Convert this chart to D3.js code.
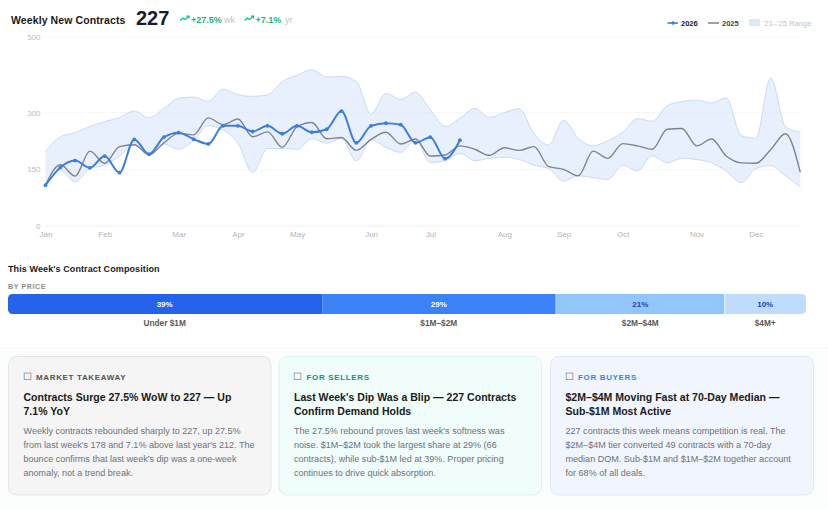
<!DOCTYPE html>
<html><head><meta charset="utf-8">
<script src="https://cdnjs.cloudflare.com/ajax/libs/d3/7.8.5/d3.min.js"></script>
<style>
html,body{margin:0;padding:0;background:#fff;overflow:hidden}
svg{display:block}
text{font-family:"Liberation Sans",Arial,sans-serif}
</style></head><body><div id="c"></div>
<script>
const monthLabels=["Jan","Feb","Mar","Apr","May","Jun","Jul","Aug","Sep","Oct","Nov","Dec"];
const monthWeeks=[0,4,9,13,17,22,26,31,35,39,44,48];
const yTicks=[0,150,300,500];
const values2026=[108,155,173,154,185,141,229,190,235,247,230,217,265,265,250,265,244,265,248,256,304,220,265,272,268,220,235,178,227];
const values2025=[108,162,132,198,166,210,215,188,220,245,241,286,268,283,236,249,208,263,274,231,234,200,229,248,217,230,185,188,212,203,187,207,200,210,157,150,133,198,179,218,212,203,256,258,212,230,185,167,166,202,244,142];
const rangeHigh=[197,236,247,263,276,287,304,286,311,338,341,330,362,347,343,347,382,399,413,394,396,382,296,351,335,354,307,264,285,311,287,300,310,245,214,280,232,212,226,248,284,277,318,329,333,325,339,239,232,392,263,248];
const rangeLow=[108,148,117,152,161,185,214,188,217,203,226,265,254,219,142,205,205,203,231,219,232,172,228,208,195,228,168,173,192,173,179,182,176,161,152,119,133,128,123,161,146,186,167,179,176,167,145,115,152,160,133,104];
const priceLabels=["Under $1M","$1M–$2M","$2M–$4M","$4M+"];
const priceShares=[39,29,21,10];
const priceGaps=[0,0.5,1,0];
const priceColors=["#2563eb","#3b82f6","#93c5fd","#bfdbfe"];
const priceTextColors=["#ffffff","#ffffff","#1e40af","#1e40af"];
const cardKickers=["MARKET TAKEAWAY","FOR SELLERS","FOR BUYERS"];
const cardTitles=[
 ["Contracts Surge 27.5% WoW to 227 — Up","7.1% YoY"],
 ["Last Week's Dip Was a Blip — 227 Contracts","Confirm Demand Holds"],
 ["$2M–$4M Moving Fast at 70-Day Median —","Sub-$1M Most Active"]];
const cardBodies=[
 ["Weekly contracts rebounded sharply to 227, up 27.5%","from last week's 178 and 7.1% above last year's 212. The","bounce confirms that last week's dip was a one-week","anomaly, not a trend break."],
 ["The 27.5% rebound proves last week's softness was","noise. $1M–$2M took the largest share at 29% (66","contracts), while sub-$1M led at 39%. Proper pricing","continues to drive quick absorption."],
 ["227 contracts this week means competition is real. The","$2M–$4M tier converted 49 contracts with a 70-day","median DOM. Sub-$1M and $1M–$2M together account","for 68% of all deals."]];
const cardFills=["#f5f5f5","#f0fdfa","#f1f5fd"];
const cardBorders=["#e5e5e5","#dcf3f0","#dfe8f6"];
const kickerColors=["#57534e","#0d9488","#3b82f6"];

const W=828,H=509;
const svg=d3.select("#c").append("svg").attr("width",W).attr("height",H).attr("viewBox",[0,0,W,H]);
const weeks=d3.range(values2025.length);
const x=d3.scalePoint().domain(weeks).range([45.5,800.3]);
const y=d3.scaleLinear().domain([0,500]).range([226,37]);

// header
svg.append("text").attr("x",11).attr("y",24).attr("font-size",10.5).attr("font-weight",700).attr("fill","#1a1a1a").attr("letter-spacing",0.1).text("Weekly New Contracts");
svg.append("text").attr("x",136).attr("y",24.5).attr("font-size",20).attr("font-weight",700).attr("fill","#1a1a2e").text("227");
function trend(px){
  const g=svg.append("g").attr("transform",`translate(${px},15.5)`).attr("fill","none").attr("stroke","#10b981").attr("stroke-width",1.1);
  g.append("polyline").attr("points","0,5 3,2.5 5,4 9,0.8");
  g.append("polyline").attr("points","6.5,0.6 9,0.6 9,3");
}
function delta(px,num,suffix,sx){
  trend(px);
  svg.append("text").attr("x",px+11).attr("y",22.5).attr("font-size",9).attr("font-weight",700).attr("fill","#10b981").text(num);
  svg.append("text").attr("x",sx).attr("y",22.5).attr("font-size",9).attr("fill","#c0c0c0").text(suffix);
}
delta(180,"+27.5%","wk",224);
delta(244.5,"+7.1%","yr",285);

// legend
const lg=svg.append("g");
lg.append("line").attr("x1",667.5).attr("x2",678).attr("y1",23).attr("y2",23).attr("stroke","#3b7de0").attr("stroke-width",1.6);
lg.append("circle").attr("cx",673).attr("cy",23).attr("r",1.8).attr("fill","#3b7de0");
lg.append("text").attr("x",681).attr("y",26).attr("font-size",7.5).attr("font-weight",700).attr("fill","#222").text("2026");
lg.append("line").attr("x1",708).attr("x2",719).attr("y1",23).attr("y2",23).attr("stroke","#808792").attr("stroke-width",1.6);
lg.append("text").attr("x",722).attr("y",26).attr("font-size",7.5).attr("font-weight",700).attr("fill","#444").text("2025");
lg.append("rect").attr("x",749).attr("y",19).attr("width",11).attr("height",7).attr("rx",1).attr("fill","#dbe7fb");
lg.append("text").attr("x",763).attr("y",26).attr("font-size",7.6).attr("fill","#c4c4c4").text("'21–'25 Range");

// grid and axes
svg.append("g").selectAll("line").data(yTicks).join("line")
  .attr("x1",45.5).attr("x2",800.3).attr("y1",d=>y(d)).attr("y2",d=>y(d))
  .attr("stroke",d=>d===0?"#f1f1f1":"#f7f7f7").attr("stroke-width",1);
const yAxis=svg.append("g").attr("transform","translate(45.5,0)")
  .call(d3.axisLeft(y).tickValues(yTicks).tickSize(0).tickPadding(5));
yAxis.select(".domain").remove();
yAxis.selectAll("text").attr("font-size",8).attr("fill","#bdbdbd").attr("font-family","Liberation Sans");
const xAxis=svg.append("g").attr("transform","translate(0,226)")
  .call(d3.axisBottom(x).tickValues(monthWeeks).tickSize(0).tickPadding(5).tickFormat((d,i)=>monthLabels[i]));
xAxis.select(".domain").remove();
xAxis.selectAll("text").attr("font-size",8).attr("fill","#b5b5b5").attr("font-family","Liberation Sans");

// band and lines
const curve=d3.curveMonotoneX;
svg.append("path").attr("d",d3.area().x((d,i)=>x(i)).y0((d,i)=>y(rangeLow[i])).y1(d=>y(d)).curve(curve)(rangeHigh))
  .attr("fill","#dbe8fc").attr("fill-opacity",0.65);
const lineGen=d3.line().x((d,i)=>x(i)).y(d=>y(d)).curve(curve);
svg.append("path").attr("d",lineGen(rangeHigh)).attr("fill","none").attr("stroke","#c8dbf6").attr("stroke-width",1);
svg.append("path").attr("d",lineGen(rangeLow)).attr("fill","none").attr("stroke","#c8dbf6").attr("stroke-width",1);
svg.append("path").attr("d",lineGen(values2025)).attr("fill","none").attr("stroke","#7d848f").attr("stroke-width",1.4);
svg.append("path").attr("d",lineGen(values2026)).attr("fill","none").attr("stroke","#3b7de0").attr("stroke-width",2);
svg.append("g").selectAll("circle").data(values2026).join("circle")
  .attr("cx",(d,i)=>x(i)).attr("cy",d=>y(d)).attr("r",1.9).attr("fill","#3b7de0");

// composition
svg.append("text").attr("x",8).attr("y",271.5).attr("font-size",9).attr("font-weight",700).attr("fill","#1a1a1a").attr("letter-spacing",0.1).text("This Week's Contract Composition");
svg.append("text").attr("x",8).attr("y",288.5).attr("font-size",7).attr("font-weight",700).attr("fill","#8a8a8a").attr("letter-spacing",0.65).text("BY PRICE");
const cum=d3.cumsum(priceShares);
const bx=d3.scaleLinear().domain([0,d3.sum(priceShares)]).range([8,806]);
svg.append("clipPath").attr("id","barclip").append("rect").attr("x",8).attr("y",294).attr("width",798).attr("height",20).attr("rx",4.5);
svg.append("g").attr("clip-path","url(#barclip)").selectAll("rect").data(priceShares).join("rect")
  .attr("x",(d,i)=>bx(cum[i]-d)).attr("y",294).attr("width",(d,i)=>bx(cum[i])-bx(cum[i]-d)-priceGaps[i]).attr("height",20)
  .attr("fill",(d,i)=>priceColors[i]);
svg.append("g").selectAll("text").data(priceShares).join("text")
  .attr("x",(d,i)=>(bx(cum[i])+bx(cum[i]-d))/2-0.5).attr("y",306.5).attr("text-anchor","middle")
  .attr("font-size",8).attr("font-weight",700).attr("fill",(d,i)=>priceTextColors[i]).text(d=>d+"%");
svg.append("g").selectAll("text").data(priceLabels).join("text")
  .attr("x",(d,i)=>(bx(cum[i])+bx(cum[i]-priceShares[i]))/2-0.5).attr("y",326).attr("text-anchor","middle")
  .attr("font-size",8.3).attr("font-weight",700).attr("fill","#5a5a5a").text(d=>d);

// lower section
svg.append("rect").attr("x",0).attr("y",347).attr("width",W).attr("height",H-347).attr("fill","#fcfefe");
svg.append("line").attr("x1",0).attr("x2",W).attr("y1",347.5).attr("y2",347.5).attr("stroke","#f4f8f8");
const cardX=[8.5,279,550.5], cardW=[262.5,262.5,263];
cardKickers.forEach((k,i)=>{
  const g=svg.append("g").attr("transform",`translate(${cardX[i]},356.5)`);
  g.append("rect").attr("width",cardW[i]).attr("height",138.5).attr("rx",8).attr("fill",cardFills[i]).attr("stroke",cardBorders[i]);
  g.append("text").attr("x",14).attr("y",23.5).attr("font-size",10).attr("font-family","DejaVu Sans").attr("fill","#666").text("☐");
  g.append("text").attr("x",27.5).attr("y",23.5).attr("font-size",8).attr("font-weight",700).attr("letter-spacing",0.65).attr("fill",kickerColors[i]).text(k);
  cardTitles[i].forEach((t,j)=>g.append("text").attr("x",15).attr("y",44.2+j*14).attr("font-size",10.55).attr("font-weight",700).attr("fill","#1a1a1a").text(t));
  cardBodies[i].forEach((t,j)=>g.append("text").attr("x",15).attr("y",77.5+j*14).attr("font-size",9.05).attr("fill","#6b7280").text(t));
});
</script></body></html>
